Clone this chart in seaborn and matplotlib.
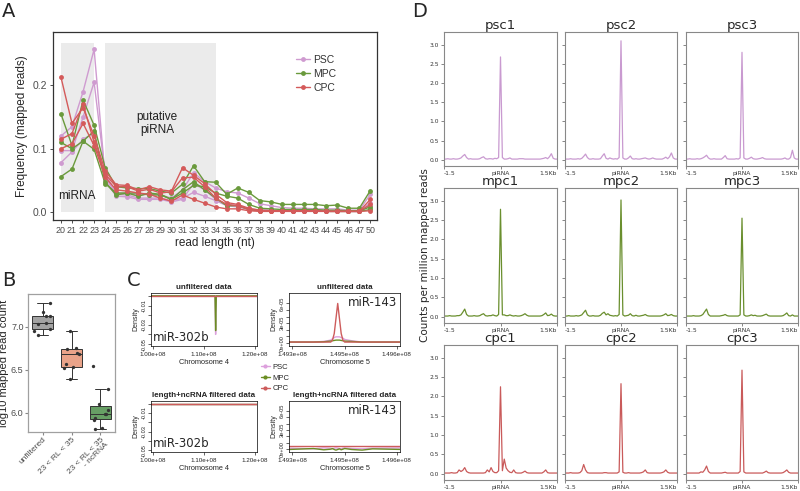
import numpy as np
import pandas as pd
import matplotlib
matplotlib.use("Agg")
import matplotlib.pyplot as plt
from matplotlib.patches import Rectangle
from matplotlib.lines import Line2D
import seaborn as sns

# ---------------- data ----------------
# A: read length distribution (3 replicates per cell type)
read_len = ["20", "21", "22", "23", "24", "25", "26", "27", "28", "29", "30", "31", "32", "33",
            "34", "35", "36", "37", "38", "39", "40", "41", "42", "43", "44", "45", "46", "47", "50"]
psc_freq = [
    [0.120, 0.135, 0.190, 0.257, 0.055, 0.028, 0.027, 0.022, 0.022, 0.022, 0.018, 0.022, 0.031, 0.025, 0.018,
     0.010, 0.008, 0.004, 0.003, 0.003, 0.002, 0.002, 0.002, 0.002, 0.001, 0.001, 0.001, 0.001, 0.010],
    [0.097, 0.097, 0.150, 0.205, 0.060, 0.030, 0.030, 0.027, 0.028, 0.027, 0.022, 0.035, 0.062, 0.048, 0.038,
     0.032, 0.030, 0.022, 0.013, 0.010, 0.007, 0.006, 0.006, 0.005, 0.005, 0.005, 0.003, 0.003, 0.028],
    [0.078, 0.095, 0.115, 0.125, 0.050, 0.025, 0.024, 0.020, 0.020, 0.020, 0.016, 0.020, 0.045, 0.035, 0.020,
     0.012, 0.010, 0.005, 0.003, 0.003, 0.002, 0.002, 0.002, 0.002, 0.002, 0.002, 0.001, 0.001, 0.015],
]
mpc_freq = [
    [0.155, 0.105, 0.177, 0.137, 0.070, 0.040, 0.038, 0.037, 0.037, 0.033, 0.030, 0.044, 0.073, 0.048, 0.047,
     0.028, 0.038, 0.031, 0.018, 0.016, 0.012, 0.012, 0.012, 0.012, 0.010, 0.011, 0.006, 0.006, 0.034],
    [0.110, 0.100, 0.112, 0.099, 0.045, 0.030, 0.030, 0.030, 0.027, 0.027, 0.020, 0.030, 0.042, 0.040, 0.030,
     0.025, 0.022, 0.012, 0.006, 0.005, 0.004, 0.004, 0.004, 0.004, 0.003, 0.003, 0.002, 0.002, 0.008],
    [0.056, 0.068, 0.112, 0.128, 0.047, 0.027, 0.030, 0.025, 0.030, 0.028, 0.020, 0.035, 0.048, 0.035, 0.022,
     0.010, 0.010, 0.004, 0.002, 0.002, 0.002, 0.002, 0.002, 0.002, 0.001, 0.001, 0.001, 0.001, 0.004],
]
cpc_freq = [
    [0.213, 0.140, 0.165, 0.120, 0.065, 0.043, 0.042, 0.035, 0.040, 0.035, 0.033, 0.070, 0.058, 0.045, 0.028,
     0.015, 0.012, 0.006, 0.003, 0.002, 0.002, 0.002, 0.002, 0.002, 0.001, 0.001, 0.001, 0.001, 0.020],
    [0.115, 0.124, 0.170, 0.110, 0.060, 0.040, 0.040, 0.033, 0.036, 0.030, 0.032, 0.054, 0.055, 0.040, 0.022,
     0.012, 0.010, 0.004, 0.002, 0.002, 0.002, 0.002, 0.002, 0.002, 0.001, 0.001, 0.001, 0.001, 0.012],
    [0.100, 0.108, 0.140, 0.105, 0.055, 0.035, 0.033, 0.030, 0.028, 0.022, 0.017, 0.027, 0.020, 0.014, 0.008,
     0.005, 0.005, 0.002, 0.001, 0.001, 0.001, 0.001, 0.001, 0.001, 0.001, 0.001, 0.001, 0.001, 0.002],
]

# B: log10 mapped read counts
b_groups = ["unfiltered", "23 < RL < 35", "23 < RL < 35\n- ncRNA"]
b_unfiltered = [7.27, 7.17, 7.13, 7.12, 7.04, 7.03, 6.97, 6.95, 6.90]
b_length = [6.95, 6.75, 6.74, 6.70, 6.68, 6.57, 6.53, 6.52, 6.39]
b_ncrna = [6.54, 6.28, 6.10, 6.03, 5.99, 5.99, 5.94, 5.92, 5.82, 5.81]

# C: read density around miR-302b (chr4) and miR-143 (chr5)
chr4_pos = [0.995e8, 1.1220e8, 1.1232e8, 1.1245e8, 1.205e8]
chr4_raw = {"PSC": [0, 0, -0.040, 0, 0], "MPC": [0, 0, -0.036, 0, 0], "CPC": [0, 0, 0, 0, 0]}
chr4_filt = {"PSC": [0, 0, 0, 0, 0], "MPC": [0, 0, 0, 0, 0], "CPC": [0, 0, 0, 0, 0]}
chr5_pos = [1.4929e8, 1.4936e8, 1.4939e8, 1.4941e8, 1.49415e8, 1.4942e8, 1.49425e8, 1.4943e8,
            1.49435e8, 1.4944e8, 1.49445e8, 1.4945e8, 1.4947e8, 1.4950e8, 1.4953e8, 1.4962e8]
chr5_raw = {
    "PSC": [0.1, 0.1, 0.2, 0.4, 0.6, 0.8, 0.9, 0.9, 0.9, 0.8, 0.7, 0.5, 0.3, 0.1, 0.1, 0.1],
    "MPC": [0.1, 0.1, 0.15, 0.25, 0.3, 0.35, 0.4, 0.4, 0.4, 0.35, 0.3, 0.25, 0.2, 0.1, 0.1, 0.1],
    "CPC": [0.1, 0.1, 0.1, 0.1, 0.4, 1.4, 3.7, 6.0, 3.7, 1.4, 0.4, 0.1, 0.1, 0.1, 0.1, 0.1],
}
chr5_filt = {
    "PSC": [0.1, 0.0, 0.15, 0.1, 0.0, 0.1, 0.15, 0.1, 0.05, 0.0, 0.1, 0.15, 0.05, 0.0, 0.1, 0.15],
    "MPC": [-0.1, 0.05, -0.15, -0.05, 0.05, -0.1, -0.2, -0.1, 0.0, -0.15, -0.05, 0.05, -0.1, -0.2, 0.0, -0.1],
    "CPC": [0.4, 0.4, 0.4, 0.4, 0.4, 0.4, 0.4, 0.4, 0.4, 0.4, 0.4, 0.4, 0.4, 0.4, 0.4, 0.4],
}

# D: piRNA-centred coverage profiles (-1.5 kb .. +1.5 kb, 61 bins)
profiles = {
    "psc1": [0.02, 0.02, 0.03, 0.02, 0.02, 0.03, 0.02, 0.02, 0.03, 0.05,
             0.10, 0.14, 0.06, 0.02, 0.03, 0.02, 0.02, 0.02, 0.02, 0.03,
             0.06, 0.08, 0.03, 0.02, 0.03, 0.03, 0.02, 0.04, 0.03, 0.06,
             2.68, 0.06, 0.02, 0.02, 0.03, 0.05, 0.02, 0.02, 0.02, 0.02,
             0.03, 0.03, 0.03, 0.02, 0.02, 0.02, 0.02, 0.02, 0.02, 0.02,
             0.02, 0.02, 0.03, 0.04, 0.06, 0.03, 0.08, 0.16, 0.04, 0.02, 0.02],
    "psc2": [0.02, 0.02, 0.02, 0.03, 0.02, 0.02, 0.02, 0.03, 0.02, 0.04,
             0.09, 0.15, 0.06, 0.02, 0.02, 0.03, 0.02, 0.02, 0.02, 0.03,
             0.10, 0.16, 0.04, 0.02, 0.05, 0.03, 0.02, 0.03, 0.02, 0.06,
             3.10, 0.05, 0.02, 0.02, 0.05, 0.10, 0.03, 0.02, 0.03, 0.02,
             0.02, 0.03, 0.04, 0.05, 0.03, 0.02, 0.03, 0.05, 0.03, 0.02,
             0.02, 0.02, 0.02, 0.04, 0.07, 0.03, 0.08, 0.18, 0.05, 0.02, 0.02],
    "psc3": [0.02, 0.02, 0.03, 0.02, 0.02, 0.02, 0.03, 0.02, 0.03, 0.05,
             0.08, 0.12, 0.05, 0.02, 0.02, 0.03, 0.02, 0.02, 0.02, 0.02,
             0.06, 0.11, 0.03, 0.02, 0.02, 0.02, 0.02, 0.03, 0.02, 0.05,
             2.80, 0.05, 0.02, 0.02, 0.04, 0.07, 0.03, 0.02, 0.02, 0.03,
             0.04, 0.06, 0.03, 0.02, 0.02, 0.02, 0.02, 0.02, 0.02, 0.02,
             0.02, 0.02, 0.03, 0.05, 0.02, 0.02, 0.06, 0.25, 0.05, 0.02, 0.02],
    "mpc1": [0.02, 0.02, 0.02, 0.03, 0.02, 0.02, 0.02, 0.03, 0.03, 0.05,
             0.12, 0.20, 0.06, 0.02, 0.02, 0.02, 0.03, 0.02, 0.02, 0.03,
             0.06, 0.08, 0.03, 0.02, 0.03, 0.03, 0.05, 0.03, 0.02, 0.06,
             2.78, 0.05, 0.05, 0.03, 0.03, 0.05, 0.03, 0.02, 0.03, 0.02,
             0.02, 0.03, 0.05, 0.08, 0.04, 0.02, 0.02, 0.02, 0.02, 0.02,
             0.02, 0.02, 0.03, 0.06, 0.10, 0.03, 0.04, 0.07, 0.03, 0.02, 0.02],
    "mpc2": [0.02, 0.02, 0.03, 0.02, 0.02, 0.02, 0.03, 0.02, 0.03, 0.05,
             0.11, 0.17, 0.05, 0.02, 0.02, 0.03, 0.02, 0.02, 0.02, 0.04,
             0.09, 0.12, 0.05, 0.08, 0.04, 0.03, 0.02, 0.03, 0.02, 0.06,
             3.02, 0.05, 0.02, 0.03, 0.04, 0.08, 0.03, 0.02, 0.04, 0.02,
             0.02, 0.03, 0.04, 0.06, 0.03, 0.02, 0.02, 0.02, 0.02, 0.02,
             0.02, 0.02, 0.03, 0.05, 0.08, 0.03, 0.04, 0.06, 0.03, 0.02, 0.02],
    "mpc3": [0.02, 0.02, 0.02, 0.02, 0.03, 0.02, 0.02, 0.02, 0.03, 0.06,
             0.13, 0.20, 0.06, 0.02, 0.02, 0.02, 0.02, 0.02, 0.02, 0.03,
             0.04, 0.06, 0.03, 0.02, 0.02, 0.02, 0.02, 0.02, 0.02, 0.05,
             2.55, 0.05, 0.02, 0.02, 0.03, 0.05, 0.03, 0.04, 0.02, 0.02,
             0.02, 0.03, 0.05, 0.07, 0.03, 0.02, 0.02, 0.02, 0.02, 0.02,
             0.02, 0.02, 0.03, 0.06, 0.10, 0.03, 0.02, 0.05, 0.02, 0.02, 0.02],
    "cpc1": [0.02, 0.02, 0.02, 0.02, 0.03, 0.02, 0.02, 0.03, 0.10, 0.06,
             0.09, 0.16, 0.06, 0.03, 0.02, 0.02, 0.02, 0.02, 0.02, 0.02,
             0.02, 0.02, 0.03, 0.10, 0.05, 0.16, 0.06, 0.03, 0.03, 0.08,
             2.25, 0.08, 0.38, 0.15, 0.08, 0.04, 0.03, 0.10, 0.03, 0.02,
             0.02, 0.02, 0.04, 0.07, 0.03, 0.02, 0.02, 0.02, 0.02, 0.02,
             0.02, 0.02, 0.02, 0.05, 0.10, 0.03, 0.02, 0.02, 0.02, 0.02, 0.02],
    "cpc2": [0.02, 0.02, 0.02, 0.03, 0.02, 0.02, 0.02, 0.02, 0.03, 0.08,
             0.24, 0.10, 0.03, 0.02, 0.02, 0.02, 0.02, 0.02, 0.02, 0.02,
             0.02, 0.03, 0.03, 0.02, 0.02, 0.02, 0.02, 0.02, 0.02, 0.05,
             2.33, 0.04, 0.02, 0.02, 0.03, 0.02, 0.02, 0.02, 0.02, 0.02,
             0.02, 0.03, 0.05, 0.10, 0.03, 0.02, 0.02, 0.02, 0.02, 0.02,
             0.02, 0.02, 0.03, 0.05, 0.10, 0.04, 0.02, 0.02, 0.02, 0.02, 0.02],
    "cpc3": [0.02, 0.02, 0.02, 0.02, 0.02, 0.02, 0.02, 0.02, 0.05, 0.04,
             0.10, 0.20, 0.06, 0.02, 0.02, 0.02, 0.02, 0.02, 0.02, 0.02,
             0.03, 0.04, 0.02, 0.02, 0.02, 0.02, 0.02, 0.02, 0.02, 0.06,
             2.68, 0.05, 0.02, 0.02, 0.02, 0.02, 0.02, 0.02, 0.02, 0.02,
             0.02, 0.02, 0.04, 0.07, 0.03, 0.02, 0.02, 0.02, 0.02, 0.02,
             0.02, 0.02, 0.03, 0.06, 0.10, 0.04, 0.02, 0.02, 0.02, 0.02, 0.02],
}
profile_bins = np.linspace(-1.5, 1.5, 61)

pal_a = {"PSC": "#cf9bd0", "MPC": "#6a9a3c", "CPC": "#d45a5a"}
pal_c = {"PSC": "#dda0dd", "MPC": "#6b8e23", "CPC": "#cd5c5c"}
pal_d = {"psc": "#c99ad0", "mpc": "#6a8f2e", "cpc": "#c95a5a"}

sns.set_style("white")
plt.rcParams["font.family"] = ["Liberation Sans", "DejaVu Sans"]
DJ = "DejaVu Sans"

W, H = 800, 491
fig = plt.figure(figsize=(8, 4.91), dpi=100)


def px_axes(left, top, right, bottom):
    return fig.add_axes([left / W, 1 - bottom / H, (right - left) / W, (bottom - top) / H])


def panel_label(x, y, s):
    fig.text(x / W, 1 - y / H, s, fontsize=14, ha="left", va="top", family=DJ)


# ---------------- A ----------------
ax = px_axes(53, 32, 377, 220)
rows = []
for cell, reps in [("PSC", psc_freq), ("MPC", mpc_freq), ("CPC", cpc_freq)]:
    for k, vals in enumerate(reps):
        for i, v in enumerate(vals):
            rows.append(dict(cell=cell, sample=f"{cell}{k}", pos=i, freq=v))
df_a = pd.DataFrame(rows)
ax.add_patch(Rectangle((0, 0), 3, 0.267, color="#ebebeb", lw=0, zorder=0))
ax.add_patch(Rectangle((4, 0), 10, 0.267, color="#ebebeb", lw=0, zorder=0))
sns.lineplot(data=df_a, x="pos", y="freq", hue="cell", units="sample", estimator=None,
             palette=pal_a, marker="o", markersize=3.5, markeredgewidth=0, linewidth=1,
             legend=False, ax=ax)
ax.set_xlim(-0.72, 28.6)
ax.set_ylim(-0.0126, 0.2844)
ax.set_xticks(range(len(read_len)))
ax.set_xticklabels(read_len)
ax.set_yticks([0.0, 0.1, 0.2])
ax.set_yticklabels(["0.0", "0.1", "0.2"])
ax.tick_params(axis="both", labelsize=7.5, labelcolor="#4d4d4d", length=2.5, width=0.6,
               color="#333333", pad=2, bottom=True, left=True)
ax.tick_params(axis="x", labelsize=6.4)
ax.set_xlabel("read length (nt)", fontsize=8.5, labelpad=1)
ax.set_ylabel("Frequency (mapped reads)", fontsize=8.5, labelpad=3)
for sp in ax.spines.values():
    sp.set_color("#333333")
    sp.set_linewidth(0.9)
ax.text(1.45, 0.025, "miRNA", fontsize=8.5, ha="center", va="center", color="#222222")
ax.text(8.7, 0.14, "putative\npiRNA", fontsize=8.5, ha="center", va="center", color="#222222",
        linespacing=1.1)
handles = [Line2D([0], [0], color=pal_a[c], marker="o", markersize=3.5, markeredgewidth=0, lw=1, label=c)
           for c in ["PSC", "MPC", "CPC"]]
ax.legend(handles=handles, loc="upper left", bbox_to_anchor=(0.72, 0.93), frameon=False, fontsize=7.5,
          handlelength=1.4, handletextpad=0.3, labelspacing=0.4, labelcolor="#333333")
panel_label(2, 2, "A")

# ---------------- B ----------------
ax = px_axes(28, 294, 115, 432)
df_b = pd.DataFrame({
    "group": [b_groups[0]] * len(b_unfiltered) + [b_groups[1]] * len(b_length) + [b_groups[2]] * len(b_ncrna),
    "val": b_unfiltered + b_length + b_ncrna,
})
np.random.seed(4)
sns.boxplot(data=df_b, x="group", y="val", hue="group", order=b_groups, hue_order=b_groups,
            palette=["#a3a3a3", "#f99b79", "#5ea95b"], width=0.72, linewidth=0.7, linecolor="#333333",
            showfliers=False, legend=False, ax=ax)
sns.stripplot(data=df_b, x="group", y="val", order=b_groups, color="#333333", size=2.4, jitter=0.28, ax=ax)
ax.set_xlim(-0.5, 2.5)
ax.set_ylim(5.776, 7.38)
ax.set_yticks([6.0, 6.5, 7.0])
ax.set_yticklabels(["6.0", "6.5", "7.0"])
ax.set_xlabel("")
ax.set_ylabel("log10 mapped read count", fontsize=8)
ax.yaxis.set_label_coords(-0.215, 0.5)
ax.tick_params(axis="y", labelsize=6.5, labelcolor="#4d4d4d", length=2, color="#888888", left=True, pad=1.2)
ax.tick_params(axis="x", labelsize=6, labelcolor="#4d4d4d", length=2, color="#888888", bottom=True, pad=1)
plt.setp(ax.get_xticklabels(), rotation=45, ha="right", rotation_mode="anchor", linespacing=0.95)
for sp in ax.spines.values():
    sp.set_color("#a0a0a0")
    sp.set_linewidth(0.9)
panel_label(2, 271, "B")

# ---------------- C ----------------
def r_style(ax, title, xlabel):
    ax.set_title(title, fontsize=5.8, fontweight="bold", pad=3)
    ax.set_xlabel(xlabel, fontsize=5.3, labelpad=2)
    ax.set_ylabel("Density", fontsize=5, labelpad=1.5)
    ax.tick_params(axis="x", labelsize=4.5, length=2, width=0.5, direction="out", pad=2, bottom=True)
    ax.tick_params(axis="y", labelsize=4.1, length=2, width=0.5, direction="out", pad=1.2, left=True)
    plt.setp(ax.get_yticklabels(), rotation=90, va="center")
    for sp in ax.spines.values():
        sp.set_color("black")
        sp.set_linewidth(0.5)


def density_lines(ax, pos, data):
    for cell in ["PSC", "MPC", "CPC"]:
        sns.lineplot(x=pos, y=data[cell], color=pal_c[cell], linewidth=1.0, ax=ax)


chr4_ticks = [1.00e8, 1.10e8, 1.20e8]
chr4_labels = ["1.00e+08", "1.10e+08", "1.20e+08"]
chr5_ticks = [1.4930e8, 1.4945e8, 1.4960e8]
chr5_labels = ["1.493e+08", "1.495e+08", "1.496e+08"]
dens4_ticks = [0.0, -0.01, -0.02, -0.03, -0.04, -0.05]
dens4_labels = ["", "-0.01", "", "-0.03", "", "-0.05"]
dens5_ticks = [0, 1e-5, 2e-5, 3e-5, 4e-5, 5e-5, 6e-5]
dens5_labels = ["0e+00", "", "", "3e-05", "", "", "6e-05"]

for top, bottom, title, d4, d5 in [(293, 346, "unfiltered data", chr4_raw, chr5_raw),
                                   (401, 452, "length+ncRNA filtered data", chr4_filt, chr5_filt)]:
    ax = px_axes(151, top, 257, bottom)
    density_lines(ax, chr4_pos, d4)
    ax.set_xlim(0.997e8, 1.204e8)
    ax.set_ylim(-0.052, 0.003)
    ax.set_xticks(chr4_ticks)
    ax.set_xticklabels(chr4_labels)
    ax.set_yticks(dens4_ticks)
    ax.set_yticklabels(dens4_labels)
    r_style(ax, title, "Chromosome 4")
    ax.text(0.02, 0.03, "miR-302b", transform=ax.transAxes, fontsize=8.5, ha="left", va="bottom", family=DJ)

    ax = px_axes(289, top, 400, bottom)
    density_lines(ax, chr5_pos, {k: [v * 1e-5 for v in vals] for k, vals in d5.items()})
    ax.set_xlim(1.4929e8, 1.49609e8)
    ax.set_ylim(-0.5e-5, 7.6e-5)
    ax.set_xticks(chr5_ticks)
    ax.set_xticklabels(chr5_labels)
    ax.set_yticks(dens5_ticks)
    ax.set_yticklabels(dens5_labels)
    r_style(ax, title, "Chromosome 5")
    ax.text(0.97, 0.95, "miR-143", transform=ax.transAxes, fontsize=8.5, ha="right", va="top", family=DJ)

c_handles = [Line2D([0], [0], color=pal_c[c], marker="o", markersize=2, lw=1, label=c)
             for c in ["PSC", "MPC", "CPC"]]
fig.legend(handles=c_handles, loc="center left", bbox_to_anchor=(254 / W, 1 - 378 / H), frameon=False,
           fontsize=5.5, handlelength=1.2, handletextpad=0.3, labelspacing=0.45)
panel_label(127, 271, "C")

# ---------------- D ----------------
col_lr = [(444, 557), (565, 677), (686, 798)]
row_tb = [(32, 166), (188, 323), (345, 480)]
names = [["psc1", "psc2", "psc3"], ["mpc1", "mpc2", "mpc3"], ["cpc1", "cpc2", "cpc3"]]
for r, (t, b) in enumerate(row_tb):
    for c, (l, rr) in enumerate(col_lr):
        name = names[r][c]
        ax = px_axes(l, t, rr, b)
        sns.lineplot(x=profile_bins, y=profiles[name], color=pal_d[name[:3]], linewidth=0.9, ax=ax)
        ax.set_xlim(-1.5, 1.5)
        ax.set_ylim(-0.16, 3.33)
        ax.set_xticks([-1.5, 0, 1.5])
        ax.set_xticklabels(["-1.5", "piRNA", "1.5Kb"], family=DJ)
        xl = ax.get_xticklabels()
        xl[0].set_horizontalalignment("left")
        xl[2].set_horizontalalignment("right")
        ax.set_yticks([0.0, 0.5, 1.0, 1.5, 2.0, 2.5, 3.0])
        if c == 0:
            ax.set_yticklabels(["0.0", "0.5", "1.0", "1.5", "2.0", "2.5", "3.0"], family=DJ)
        else:
            ax.set_yticklabels([])
        ax.tick_params(axis="both", labelsize=4.3, length=2, width=0.5, pad=1.5, bottom=True, left=True,
                       color="#555555", labelcolor="#333333")
        ax.set_title(name, fontsize=9.5, pad=2, family=DJ)
        for sp in ax.spines.values():
            sp.set_color("#888888")
            sp.set_linewidth(0.8)
fig.text(425 / W, 1 - 255 / H, "Counts per million mapped reads", rotation=90, fontsize=7.5,
         ha="center", va="center", family=DJ)
panel_label(412, 2, "D")

fig.savefig("out.png", dpi=100)
